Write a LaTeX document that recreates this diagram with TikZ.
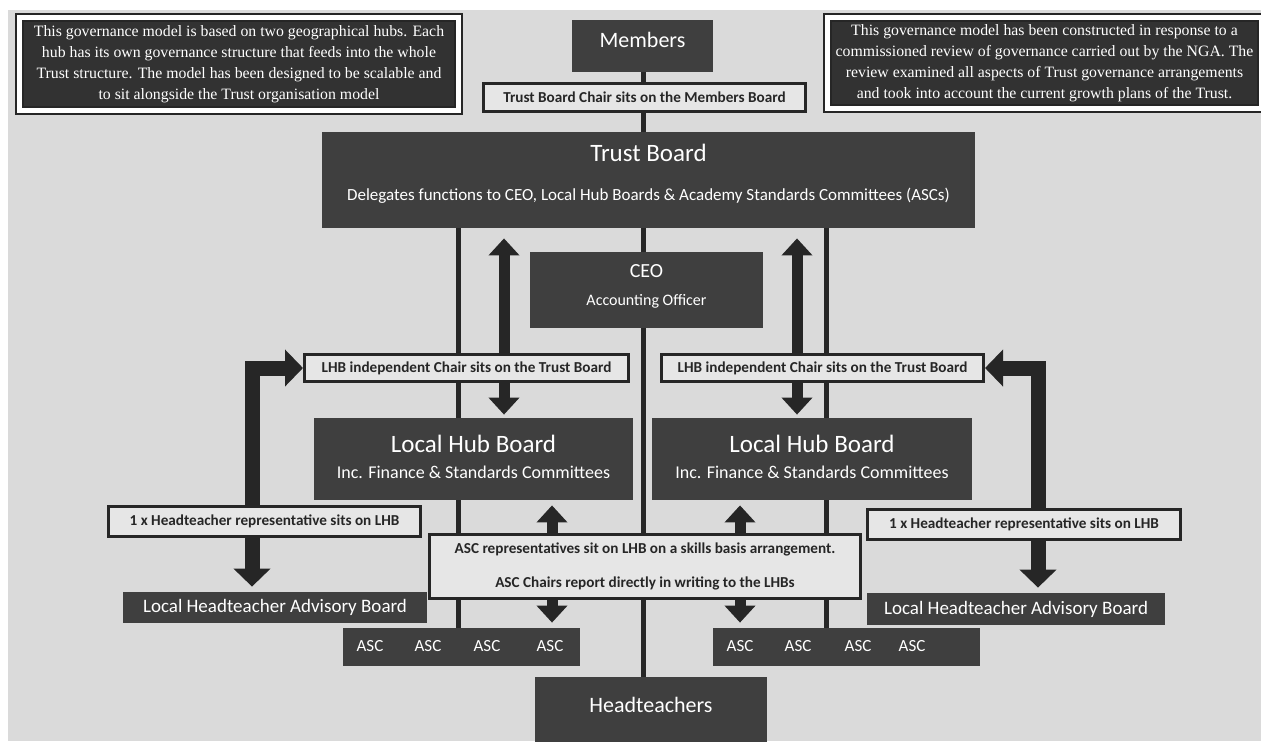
\documentclass[tikz,border=0pt]{standalone}
\usepackage{fontspec}
\setmainfont{Carlito}
\newfontfamily\notefont{Liberation Serif}
\usetikzlibrary{arrows.meta,positioning,calc}

\definecolor{boxgrey}{HTML}{3F3F3F}
\definecolor{pagegrey}{HTML}{DADADA}
\definecolor{tabgrey}{HTML}{E6E6E6}
\definecolor{inkgrey}{HTML}{262626}

\pgfdeclarelayer{back}
\pgfdeclarelayer{lines}
\pgfsetlayers{back,lines,main}

\tikzset{
  darkbox/.style={fill=boxgrey, text=white, inner sep=0pt, align=center},
  notebox/.style={fill=boxgrey!80!black, draw=inkgrey, double=white, line width=1pt,
    double distance=2.5pt, text=white, inner sep=0pt, align=center,
    font=\notefont\fontsize{7.9}{10.5}\selectfont},
  tagbox/.style={fill=tabgrey, draw=inkgrey, line width=1.5pt, inner sep=0pt,
    text=inkgrey, align=center, font=\fontsize{7.6}{9}\selectfont\bfseries},
  trunk/.style={draw=inkgrey, line width=2.5pt},
  fatarrow/.style={draw=inkgrey, line width=5.5pt, -{Triangle[width=15pt,length=8.5pt]}},
  fatterarrow/.style={draw=inkgrey, line width=7.5pt, -{Triangle[width=18pt,length=9pt]}},
  asctext/.style={text=white, inner sep=0pt, font=\fontsize{8.5}{10}\selectfont}
}

\begin{document}
\begin{tikzpicture}[x=0.5pt,y=0.5pt]
\useasboundingbox (0,0) rectangle (1261,-741);
\clip (0,0) rectangle (1261,-741);
\begin{pgfonlayer}{back}
\fill [white] (0,0) rectangle (1261,-741);
\fill [pagegrey] (8,-10) rectangle (1261,-741);
\end{pgfonlayer}

\node [notebox, minimum width=219.5pt, minimum height=46.5pt] (noteL) at (239,-64)
  {This governance model is based on two geographical hubs. Each\\
   hub has its own governance structure that feeds into the whole\\
   Trust structure. The model has been designed to be scalable and\\
   to sit alongside the Trust organisation model};
\node [notebox, minimum width=217pt, minimum height=45.5pt] (noteR) at (1044.5,-63)
  {This governance model has been constructed in response to a\\
   commissioned review of governance carried out by the NGA. The\\
   review examined all aspects of Trust governance arrangements\\
   and took into account the current growth plans of the Trust.};

\node [darkbox, minimum width=70.5pt, minimum height=26pt, text depth=6pt, font=\fontsize{11}{13}\selectfont] (members) at (642.5,-46) {Members};
\node [tagbox, minimum width=161pt, minimum height=14pt] (chairM) at (644.5,-97.5) {Trust Board Chair sits on the Members Board};
\node [darkbox, minimum width=326.5pt, minimum height=48pt, text depth=8pt, font=\fontsize{8.5}{10}\selectfont] (trust) at (648.5,-180)
  {{\fontsize{12.5}{14}\selectfont Trust Board}\\[9.5pt]
   Delegates functions to CEO, Local Hub Boards \& Academy Standards Committees (ASCs)};
\node [darkbox, minimum width=116.5pt, minimum height=38pt, text depth=5pt, font=\fontsize{8}{10}\selectfont] (ceo) at (646.5,-290)
  {{\fontsize{10}{12}\selectfont CEO}\\[4pt]Accounting Officer};

\node [tagbox, minimum width=162pt, minimum height=13.5pt] (lhbL) at (466.5,-368) {LHB independent Chair sits on the Trust Board};
\node [tagbox, minimum width=161pt, minimum height=13.5pt] (lhbR) at (822.5,-368) {LHB independent Chair sits on the Trust Board};

\node [darkbox, minimum width=159.5pt, minimum height=41pt, text depth=2pt, font=\fontsize{9}{11}\selectfont] (hubL) at (473.5,-459)
  {{\fontsize{12.5}{14}\selectfont Local Hub Board}\\[2pt]Inc. Finance \& Standards Committees};
\node [darkbox, minimum width=160pt, minimum height=41pt, text depth=2pt, font=\fontsize{9}{11}\selectfont] (hubR) at (812,-459)
  {{\fontsize{12.5}{14}\selectfont Local Hub Board}\\[2pt]Inc. Finance \& Standards Committees};

\node [tagbox, minimum width=156pt, minimum height=15pt] (htL) at (264.5,-521.5) {1 x Headteacher representative sits on LHB};
\node [tagbox, minimum width=156.5pt, minimum height=15pt] (htR) at (1024,-524) {1 x Headteacher representative sits on LHB};
\node [tagbox, minimum width=215.5pt, minimum height=32pt] (ascbox) at (645,-566.5)
  {ASC representatives sit on LHB on a skills basis arrangement.\\[8pt]
   ASC Chairs report directly in writing to the LHBs};

\node [darkbox, minimum width=152pt, minimum height=15.5pt, font=\fontsize{9.5}{11}\selectfont] (lhabL) at (275,-607.5) {Local Headteacher Advisory Board};
\node [darkbox, minimum width=149pt, minimum height=16pt, font=\fontsize{9.5}{11}\selectfont] (lhabR) at (1016,-609) {Local Headteacher Advisory Board};

\node [darkbox, minimum width=118.5pt, minimum height=19pt] (ascL) at (461.5,-647) {};
\node [darkbox, minimum width=133.5pt, minimum height=19pt] (ascR) at (846.5,-647) {};
\foreach \x [count=\i] in {370,428,487,550}
  \node [asctext] (ascL\i) at (\x,-646) {ASC};
\foreach \x [count=\i] in {740,798,858,912}
  \node [asctext] (ascR\i) at (\x,-646) {ASC};

\node [darkbox, minimum width=116pt, minimum height=34pt, text depth=6pt, font=\fontsize{11}{13}\selectfont] (head) at (651,-711) {Headteachers};

\coordinate (spine) at (643,-46);
\coordinate (trunkL) at (458,-228);
\coordinate (trunkR) at (826,-228);
\coordinate (chairLx) at (504,-368);
\coordinate (chairRx) at (797,-368);
\coordinate (repL) at (552,-566);
\coordinate (repR) at (740,-566);
\coordinate (riseL) at (252,-521);
\coordinate (riseR) at (1038,-524);

\begin{pgfonlayer}{lines}
\draw [trunk] (spine |- members.south) -- (spine |- trust.north);
\draw [trunk] (spine |- trust.south) -- (spine |- ceo.north);
\draw [trunk] (spine |- ceo.south) -- (spine |- head.north);
\draw [trunk] (trunkL) -- (trunkL |- ascL.north);
\draw [trunk] (trunkR) -- (trunkR |- ascR.north);
\end{pgfonlayer}

\draw [fatarrow, shorten >=5pt] (chairLx |- lhbL.north) -- (chairLx |- trust.south);
\draw [fatarrow, shorten >=1.5pt] (chairLx |- lhbL.south) -- (chairLx |- hubL.north);
\draw [fatarrow, shorten >=5pt] (chairRx |- lhbR.north) -- (chairRx |- trust.south);
\draw [fatarrow, shorten >=1.5pt] (chairRx |- lhbR.south) -- (chairRx |- hubR.north);

\draw [fatarrow, shorten >=2.5pt] (repL |- ascbox.north) -- (repL |- hubL.south);
\draw [fatarrow, shorten >=2.5pt] (repL |- ascbox.south) -- (repL |- ascL.north);
\draw [fatarrow, shorten >=2.5pt] (repR |- ascbox.north) -- (repR |- hubR.south);
\draw [fatarrow, shorten >=2.5pt] (repR |- ascbox.south) -- (repR |- ascR.north);

\draw [fatterarrow] (riseL |- htL.north) |- (lhbL.west);
\draw [fatterarrow, shorten >=2.5pt] (riseL |- htL.south) -- (riseL |- lhabL.north);
\draw [fatterarrow] (riseR |- htR.north) |- (lhbR.east);
\draw [fatterarrow, shorten >=2.5pt] (riseR |- htR.south) -- (riseR |- lhabR.north);
\end{tikzpicture}
\end{document}
